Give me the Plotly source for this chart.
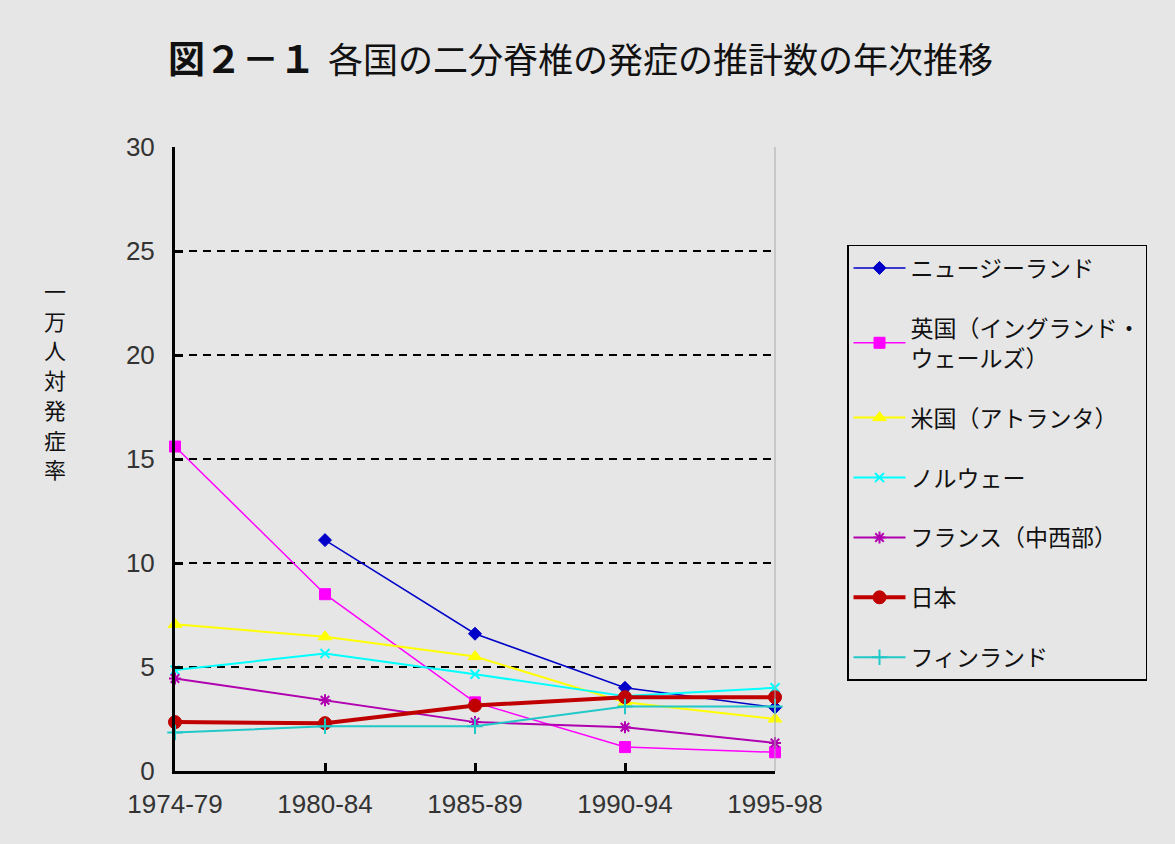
import plotly.graph_objects as go

# Periods on the horizontal axis
periods = ["1974-79", "1980-84", "1985-89", "1990-94", "1995-98"]

# Estimated incidence of spina bifida per 10,000 births
new_zealand = [None, 11.1, 6.6, 4.0, 3.05]
england_wales = [15.6, 8.5, 3.3, 1.15, 0.9]
usa_atlanta = [7.05, 6.45, 5.5, 3.3, 2.5]
norway = [4.85, 5.65, 4.65, 3.6, 4.0]
france_midwest = [4.45, 3.4, 2.35, 2.1, 1.35]
japan = [2.35, 2.3, 3.15, 3.55, 3.55]
finland = [1.85, 2.15, 2.15, 3.1, 3.1]

y_ticks = [0, 5, 10, 15, 20, 25, 30]
grid_values = [5, 10, 15, 20, 25]

x_pos = list(range(len(periods)))

series = [
    ("ニュージーランド", new_zealand, "#0000C8", 1.5, "diamond", 10, 1),
    ("英国（イングランド・<br>ウェールズ）", england_wales, "#FF00FF", 1.5, "square", 11, 1),
    ("米国（アトランタ）", usa_atlanta, "#FFFF00", 2, "triangle-up", 12, 1),
    ("ノルウェー", norway, "#00FFFF", 2, "x-thin-open", 9, 2),
    ("フランス（中西部）", france_midwest, "#B000B0", 2, "asterisk-open", 10, 2),
    ("日本", japan, "#C00000", 4, "circle", 13, 1),
    ("フィンランド", finland, "#20C8C8", 2, "cross-thin-open", 11, 2),
]

bg = "#E6E6E6"
fig = go.Figure()

for i, (name, vals, color, lw, sym, msize, mlw) in enumerate(series):
    fig.add_trace(go.Scatter(
        x=x_pos, y=vals, name=name, mode="lines+markers",
        line=dict(color=color, width=lw),
        marker=dict(symbol=sym, size=msize, color=color,
                    line=dict(color=color, width=mlw)),
        legendgroup=f"g{i}",
        cliponaxis=False,
    ))

# Dashed horizontal grid from an overlaid axis
fig.add_trace(go.Scatter(x=[0], y=[0], yaxis="y2", showlegend=False,
                         mode="markers", marker=dict(opacity=0),
                         hoverinfo="skip"))

# Vertical axis title, one character per line
y_title = "一万人対発症率"

fig.update_layout(
    width=1175, height=844,
    paper_bgcolor=bg, plot_bgcolor=bg,
    margin=dict(l=175, r=400, t=147, b=73),
    font=dict(family="Noto Sans CJK JP", color="#111111"),
    xaxis=dict(
        range=[0, 4], tickvals=x_pos, ticktext=periods,
        ticks="inside", ticklen=8, tickwidth=3, tickcolor="black",
        showline=True, linecolor="black", linewidth=3,
        showgrid=False, zeroline=False,
        tickfont=dict(family="Liberation Sans", size=26, color="#333333"),
        ticklabelstandoff=8,
    ),
    yaxis=dict(
        range=[0, 30], tickvals=y_ticks,
        ticks="inside", ticklen=8, tickwidth=3, tickcolor="black",
        showline=True, linecolor="black", linewidth=3,
        showgrid=False, zeroline=False,
        tickfont=dict(family="Liberation Sans", size=26, color="#333333"),
        ticklabelstandoff=12,
    ),
    yaxis2=dict(
        range=[0, 30], overlaying="y", tickvals=grid_values,
        showticklabels=False, ticks="", showline=False, zeroline=False,
        showgrid=True, gridcolor="black", gridwidth=2, griddash="8px,6px",
    ),
    legend=dict(
        x=1.12, y=0.843, xanchor="left", yanchor="top",
        bgcolor=bg, bordercolor="black", borderwidth=1.5,
        font=dict(family="Noto Sans CJK JP", size=23, color="#111111"),
        tracegroupgap=27, itemwidth=52,
    ),
    showlegend=True,
    shapes=[dict(type="line", xref="paper", yref="paper", x0=1, x1=1,
                 y0=0, y1=1, line=dict(color="#AAAAAA", width=1))],
    annotations=[
        dict(text="<b>図２－１</b>", xref="paper", yref="paper",
             x=-0.015, y=1.144, xanchor="left", yanchor="middle",
             showarrow=False,
             font=dict(family="Noto Sans CJK JP", size=37, color="#111111")),
        dict(text="各国の二分脊椎の発症の推計数の年次推移", xref="paper", yref="paper",
             x=0.252, y=1.144, xanchor="left", yanchor="middle",
             showarrow=False,
             font=dict(family="Noto Sans CJK JP", size=35, color="#111111")),
    ],
)

# Stack the axis-title characters from top to bottom
for k, ch in enumerate(y_title):
    fig.add_annotation(
        text=ch, xref="paper", yref="paper",
        x=-0.2, y=(771 - 290 - 29.7 * k) / 624,
        xanchor="center", yanchor="middle", showarrow=False,
        font=dict(family="Noto Sans CJK JP", size=22, color="#111111"),
    )

fig.write_html("out.html")
